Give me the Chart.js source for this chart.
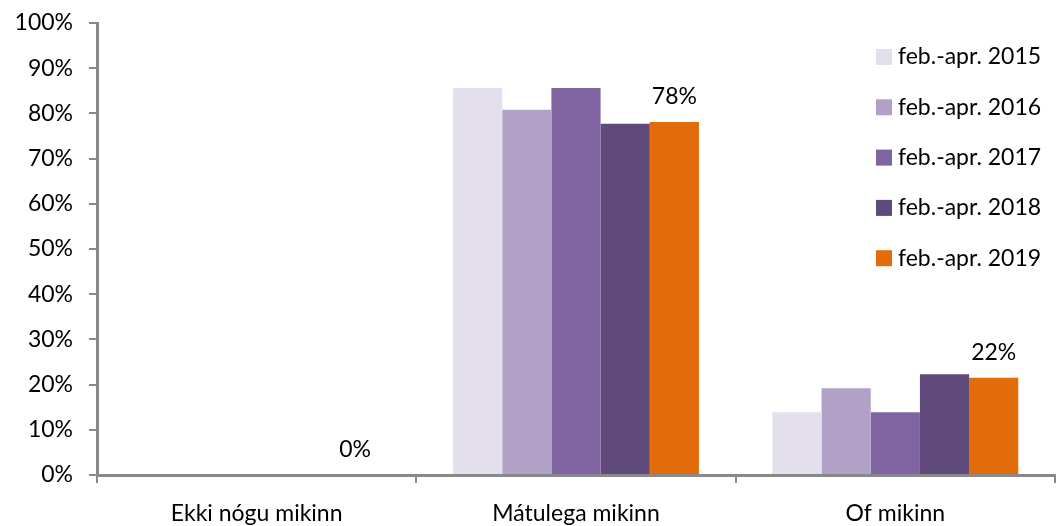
<!DOCTYPE html>
<html>
<head>
<meta charset="utf-8">
<script src="https://cdn.jsdelivr.net/npm/chart.js@4/dist/chart.umd.min.js"></script>
<style>
  html, body { margin: 0; padding: 0; background: #fff; }
  #wrap { width: 1056px; height: 526px; }
</style>
</head>
<body>
<div id="wrap"><canvas id="chart" width="1056" height="526"></canvas></div>
<script>
const categories = ["Ekki nógu mikinn", "Mátulega mikinn", "Of mikinn"];
const seriesNames = ["feb.-apr. 2015", "feb.-apr. 2016", "feb.-apr. 2017", "feb.-apr. 2018", "feb.-apr. 2019"];
const v2015 = [0, 85.6, 13.9];
const v2016 = [0, 80.8, 19.2];
const v2017 = [0, 85.6, 13.9];
const v2018 = [0, 77.7, 22.3];
const v2019 = [0, 78.1, 21.5];
const colors = ["#E4DFEC", "#B2A1C7", "#8064A2", "#604A7B", "#E36C0A"];
const yTicks = [0, 10, 20, 30, 40, 50, 60, 70, 80, 90, 100];

const FONT = "Lato, 'Open Sans', sans-serif";
const FSIZE = 23;
const axisGrey = "#898989";

// labels above the 2019 bars only
const valueLabels = {
  id: "valueLabels",
  afterDatasetsDraw(chart) {
    const ctx = chart.ctx;
    const meta = chart.getDatasetMeta(4);
    ctx.save();
    ctx.font = FSIZE + "px " + FONT;
    ctx.fillStyle = "#000";
    ctx.textAlign = "center";
    ctx.textBaseline = "middle";
    meta.data.forEach((bar, i) => {
      const val = chart.data.datasets[4].data[i];
      ctx.fillText(Math.round(val) + "%", bar.x, bar.y - 25);
    });
    ctx.restore();
  }
};

// legend drawn inside the plot, right side
const insideLegend = {
  id: "insideLegend",
  afterDraw(chart) {
    const ctx = chart.ctx;
    ctx.save();
    ctx.font = FSIZE + "px " + FONT;
    ctx.textBaseline = "middle";
    ctx.textAlign = "left";
    chart.data.datasets.forEach((ds, i) => {
      const y = 57 + i * 50.3;
      ctx.fillStyle = ds.backgroundColor;
      ctx.fillRect(876, y - 8, 16, 16);
      ctx.fillStyle = "#000";
      ctx.fillText(ds.label, 898, y);
    });
    ctx.restore();
  }
};

const datasets = [v2015, v2016, v2017, v2018, v2019].map((vals, i) => ({
  label: seriesNames[i],
  data: vals,
  backgroundColor: colors[i],
  borderWidth: 0,
  barPercentage: 1,
  categoryPercentage: 0.77
}));

new Chart(document.getElementById("chart"), {
  type: "bar",
  data: { labels: categories, datasets: datasets },
  options: {
    responsive: false,
    animation: false,
    layout: { padding: { top: 23, right: 1, left: 0, bottom: 0 } },
    plugins: {
      legend: { display: false },
      tooltip: { enabled: false }
    },
    scales: {
      x: {
        offset: true,
        grid: {
          offset: true,
          drawOnChartArea: false,
          drawTicks: true,
          tickLength: 8,
          color: axisGrey,
          lineWidth: 2
        },
        border: { color: axisGrey, width: 3 },
        ticks: {
          color: "#000",
          font: { size: FSIZE, family: FONT },
          padding: 17,
          maxRotation: 0
        },
        afterFit(scale) { scale.height = 51; }
      },
      y: {
        min: 0,
        max: 100,
        afterBuildTicks(scale) { scale.ticks = yTicks.map(v => ({ value: v })); },
        grid: {
          drawOnChartArea: false,
          drawTicks: true,
          tickLength: 8,
          color: axisGrey,
          lineWidth: 2
        },
        border: { color: axisGrey, width: 3 },
        ticks: {
          color: "#000",
          font: { size: FSIZE, family: FONT },
          padding: 16,
          callback: v => v + "%"
        },
        afterFit(scale) {
          scale.width = 97;
          scale.paddingTop = 0;
          scale.paddingBottom = 0;
        }
      }
    }
  },
  plugins: [valueLabels, insideLegend]
});
</script>
</body>
</html>
